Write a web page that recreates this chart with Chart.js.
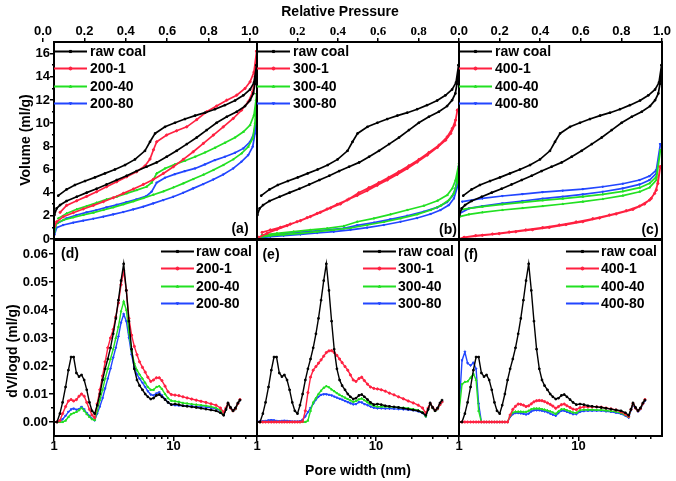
<!DOCTYPE html>
<html><head><meta charset="utf-8">
<script src="https://cdn.jsdelivr.net/npm/chart.js@4.4.0/dist/chart.umd.min.js"></script>
<style>
html,body{margin:0;padding:0;background:#fff;}
#wrap{position:relative;width:676px;height:481px;overflow:hidden;background:#fff;}
canvas{position:absolute;}
.t{position:absolute;white-space:nowrap;font-family:"Liberation Sans",Arial,sans-serif;font-size:14px;font-weight:bold;color:#000;line-height:1;transform:translate(-50%,-50%);}
.r{transform:translate(-50%,-50%) rotate(-90deg);}
</style></head><body>
<div id="wrap">
<canvas id="ca"></canvas><canvas id="cb"></canvas><canvas id="cc"></canvas>
<canvas id="cd"></canvas><canvas id="ce"></canvas><canvas id="cf"></canvas>
<div class="t" style="left:340px;top:11px;">Relative Pressure</div>
<div class="t r" style="left:25px;top:140px;">Volume (ml/g)</div>
<div class="t r" style="left:12px;top:351px;">dV/logd (ml/g)</div>
<div class="t" style="left:358px;top:470px;">Pore width (nm)</div>
<div class="t" style="left:240px;top:228px;">(a)</div>
<div class="t" style="left:448px;top:229px;">(b)</div>
<div class="t" style="left:650px;top:229px;">(c)</div>
<div class="t" style="left:70px;top:253px;">(d)</div>
<div class="t" style="left:271px;top:254px;">(e)</div>
<div class="t" style="left:471px;top:254px;">(f)</div>
</div>
<script>
// ---------- tick labels ----------
const topTicksA = [0, 0.2, 0.4, 0.6, 0.8, 1.0];
const topTicksB = [0.2, 0.4, 0.6, 0.8];
const topTicksC = [0, 0.2, 0.4, 0.6, 0.8, 1.0];
const volTicks = [0, 2, 4, 6, 8, 10, 12, 14, 16];
const volMinor = [1, 3, 5, 7, 9, 11, 13, 15];
const psdTicks = [0, 0.01, 0.02, 0.03, 0.04, 0.05, 0.06];
const psdMinor = [0.005, 0.015, 0.025, 0.035, 0.045, 0.055];
const poreTicks = [1, 10];
const poreMinor = [2, 3, 4, 5, 6, 7, 8, 9, 20, 30, 40];

// ---------- isotherms: raw coal ----------
const rawAdsP = [0.002,0.013,0.030,0.062,0.112,0.161,0.210,0.259,0.309,0.358,0.407,0.456,0.506,0.555,0.604,0.654,0.703,0.752,0.801,0.851,0.900,0.941,0.966,0.982,0.990,0.998];
const rawAdsV = [2.07,2.64,2.93,3.28,3.65,4.00,4.34,4.71,5.09,5.46,5.86,6.24,6.61,7.10,7.61,8.19,8.76,9.40,10.03,10.55,10.98,11.47,11.98,12.56,13.4,15.0];
const rawDesP = [0.021,0.062,0.103,0.153,0.202,0.251,0.300,0.350,0.399,0.448,0.473,0.498,0.547,0.596,0.645,0.695,0.744,0.793,0.842,0.892,0.933,0.966,0.985,0.998];
const rawDesV = [3.74,4.28,4.66,5.00,5.32,5.66,6.00,6.38,6.87,7.61,8.39,9.11,9.68,10.03,10.35,10.65,10.90,11.20,11.55,11.95,12.40,12.90,13.50,15.0];

// ---------- isotherms: 200 series ----------
const p200Ads = [0.002,0.013,0.046,0.095,0.144,0.194,0.243,0.292,0.342,0.391,0.440,0.489,0.539,0.588,0.637,0.686,0.736,0.785,0.834,0.883,0.924,0.957,0.979,0.990,0.998];
const v200_1Ads = [1.06,1.49,1.93,2.27,2.59,2.90,3.22,3.56,3.94,4.31,4.71,5.14,5.66,6.24,6.87,7.53,8.25,8.97,9.68,10.40,11.12,11.84,12.70,14.0,16.2];
const v200_40Ads = [0.63,1.35,1.64,1.87,2.07,2.27,2.50,2.73,2.99,3.25,3.53,3.82,4.11,4.45,4.80,5.17,5.55,5.95,6.38,6.87,7.39,7.96,8.68,9.97,12.56];
const v200_80Ads = [0.34,0.98,1.21,1.41,1.58,1.75,1.93,2.13,2.33,2.56,2.79,3.07,3.36,3.65,3.99,4.37,4.74,5.14,5.57,6.09,6.67,7.24,7.96,9.11,11.12];
const p200_1Des = [0.030,0.062,0.112,0.161,0.210,0.259,0.309,0.358,0.407,0.448,0.473,0.490,0.506,0.555,0.604,0.654,0.703,0.752,0.801,0.851,0.900,0.941,0.966,0.985,0.998];
const v200_1Des = [2.30,2.90,3.30,3.68,4.08,4.51,4.94,5.37,5.80,6.30,6.90,7.70,8.39,8.97,9.34,9.68,10.30,10.98,11.47,11.98,12.41,12.99,13.56,14.4,16.2];
const p200Des = [0.021,0.062,0.112,0.161,0.210,0.259,0.309,0.358,0.407,0.456,0.481,0.506,0.547,0.596,0.645,0.695,0.744,0.793,0.842,0.892,0.933,0.966,0.985,0.995,0.998];
const v200_40Des = [1.78,2.21,2.56,2.84,3.13,3.42,3.65,3.94,4.22,4.51,4.86,5.66,6.09,6.44,6.75,7.10,7.47,7.87,8.30,8.76,9.25,9.83,10.69,11.98,12.56];
const v200_80Des = [1.41,1.78,2.07,2.30,2.50,2.73,2.96,3.19,3.42,3.71,4.08,4.86,5.29,5.60,5.86,6.09,6.44,6.81,7.10,7.44,7.82,8.39,9.11,10.26,11.12];

// ---------- isotherms: 300 series ----------
const p300_1Ads = [0.008,0.050,0.099,0.149,0.198,0.248,0.298,0.347,0.397,0.446,0.496,0.545,0.595,0.645,0.694,0.744,0.793,0.843,0.893,0.934,0.959,0.979,0.992];
const v300_1Ads = [0.14,0.49,0.83,1.15,1.49,1.84,2.21,2.59,2.99,3.36,3.76,4.17,4.63,5.09,5.57,6.09,6.64,7.24,7.90,8.53,9.11,9.83,11.12];
const p300_1Des = [0.025,0.066,0.116,0.165,0.215,0.264,0.314,0.364,0.413,0.455,0.504,0.554,0.603,0.653,0.702,0.752,0.802,0.851,0.901,0.942,0.967,0.983,0.992];
const v300_1Des = [0.57,0.78,1.00,1.29,1.58,1.93,2.30,2.67,3.02,3.45,3.99,4.43,4.86,5.32,5.80,6.32,6.87,7.47,8.10,8.82,9.54,10.26,11.12];
const p300Ads = [0.008,0.066,0.132,0.215,0.298,0.380,0.463,0.545,0.628,0.711,0.793,0.860,0.909,0.950,0.975,0.992,1.0];
const v300_40Ads = [0.14,0.29,0.37,0.49,0.63,0.78,0.95,1.21,1.47,1.78,2.13,2.50,2.87,3.36,3.94,4.94,6.52];
const v300_80Ads = [0.09,0.20,0.29,0.40,0.52,0.63,0.78,0.98,1.21,1.49,1.81,2.16,2.50,2.93,3.50,4.51,6.24];
const p300Des = [0.025,0.099,0.182,0.264,0.347,0.430,0.496,0.579,0.661,0.744,0.826,0.893,0.942,0.967,0.983,1.0];
const v300_40Des = [0.34,0.49,0.63,0.78,0.92,1.12,1.49,1.78,2.13,2.50,2.87,3.30,3.79,4.37,5.09,6.52];
const v300_80Des = [0.32,0.43,0.55,0.66,0.78,0.92,1.18,1.41,1.70,2.01,2.36,2.73,3.19,3.71,4.37,6.24];

// ---------- isotherms: 400 series ----------
const p400_1Ads = [0,0.025,0.082,0.165,0.247,0.329,0.412,0.494,0.577,0.659,0.741,0.824,0.890,0.939,0.964,0.980,0.992];
const v400_1Ads = [0.0,0.14,0.29,0.43,0.60,0.78,0.98,1.21,1.47,1.75,2.07,2.44,2.84,3.36,3.94,4.80,6.24];
const p400_1Des = [0.025,0.115,0.198,0.280,0.362,0.445,0.527,0.610,0.692,0.774,0.857,0.914,0.947,0.972,0.992];
const v400_1Des = [0.14,0.32,0.46,0.63,0.80,1.00,1.24,1.49,1.81,2.16,2.56,3.02,3.50,4.22,6.24];
const p400Ads = [0.003,0.049,0.115,0.214,0.313,0.412,0.511,0.610,0.708,0.807,0.890,0.939,0.972,0.992];
const v400_40Ads = [1.93,2.13,2.30,2.50,2.67,2.84,3.02,3.22,3.45,3.74,4.08,4.45,5.09,7.67];
const v400_80Ads = [2.21,2.64,2.84,3.07,3.28,3.48,3.65,3.85,4.08,4.37,4.71,5.09,5.66,8.19];
const p400Des = [0.016,0.115,0.214,0.313,0.412,0.511,0.610,0.708,0.807,0.890,0.939,0.972,0.992];
const v400_40Des = [2.56,2.79,2.99,3.16,3.33,3.48,3.65,3.85,4.11,4.43,4.80,5.37,7.67];
const v400_80Des = [3.22,3.50,3.71,3.88,4.05,4.17,4.31,4.51,4.77,5.09,5.43,5.95,8.19];

// ---------- pore size distributions ----------
const poreWidth = [1.0,1.06,1.12,1.18,1.25,1.32,1.39,1.46,1.54,1.62,1.70,1.79,1.88,1.98,2.08,2.19,2.30,2.42,2.55,2.68,2.82,2.97,3.13,3.29,3.46,3.64,3.83,4.03,4.24,4.46,4.70,4.95,5.2,5.5,5.8,6.1,6.45,6.8,7.2,7.6,8.0,8.5,9.0,9.6,10.3,11.1,12,13,14.2,15.5,17,18.7,20.6,22.7,24.7,26.3,27.5,28.6,30,31.5,33,34.6,36];
const psdRaw = [0,0,0.003,0.007,0.0125,0.0185,0.0232,0.0232,0.0175,0.0162,0.0168,0.0150,0.0115,0.0070,0.0040,0.0030,0.0060,0.0100,0.0150,0.0190,0.0225,0.0265,0.0315,0.0370,0.0435,0.0505,0.0565,0.0470,0.0360,0.0260,0.0190,0.0150,0.0130,0.0115,0.0100,0.0090,0.0082,0.0085,0.0095,0.0098,0.0090,0.0080,0.0070,0.0062,0.0064,0.0062,0.0058,0.0056,0.0054,0.0052,0.0049,0.0046,0.0043,0.0040,0.0033,0.0024,0.0045,0.0068,0.0052,0.0040,0.0050,0.0068,0.0078];
const psd200_1 = [0,0,0.0005,0.003,0.0055,0.0075,0.0080,0.0075,0.0080,0.0092,0.0100,0.0092,0.0070,0.0045,0.0025,0.0015,0.0065,0.0115,0.0165,0.0215,0.0265,0.0300,0.0330,0.0375,0.0425,0.0490,0.0540,0.0470,0.0370,0.0310,0.0270,0.0240,0.0215,0.0195,0.0178,0.0160,0.0145,0.0150,0.0158,0.0158,0.0148,0.0128,0.0108,0.0098,0.0096,0.0094,0.0090,0.0086,0.0082,0.0078,0.0074,0.0070,0.0065,0.0060,0.0050,0.0035,0.0050,0.0066,0.0050,0.0040,0.0048,0.0066,0.0080];
const psd200_40 = [0,0,0,0,0.0005,0.0018,0.0028,0.0032,0.0036,0.0042,0.0050,0.0040,0.0028,0.0018,0.0010,0.0007,0.0040,0.0078,0.0115,0.0155,0.0190,0.0225,0.0260,0.0300,0.0340,0.0395,0.0430,0.0400,0.0320,0.0255,0.0210,0.0185,0.0170,0.0155,0.0140,0.0125,0.0115,0.0115,0.0125,0.0128,0.0118,0.0100,0.0085,0.0076,0.0074,0.0072,0.0068,0.0066,0.0064,0.0062,0.0060,0.0058,0.0055,0.0050,0.0042,0.0028,0.0045,0.0066,0.0050,0.0040,0.0046,0.0066,0.0080];
const psd200_80 = [0,0,0.0002,0.0010,0.0022,0.0036,0.0045,0.0048,0.0044,0.0046,0.0054,0.0045,0.0032,0.0022,0.0012,0.0006,0.0030,0.0055,0.0085,0.0120,0.0155,0.0190,0.0230,0.0265,0.0305,0.0355,0.0385,0.0360,0.0300,0.0240,0.0195,0.0170,0.0155,0.0140,0.0125,0.0110,0.0098,0.0095,0.0102,0.0106,0.0095,0.0082,0.0070,0.0062,0.0060,0.0059,0.0058,0.0057,0.0056,0.0055,0.0054,0.0053,0.0051,0.0048,0.0040,0.0026,0.0045,0.0066,0.0050,0.0040,0.0046,0.0066,0.0078];
const psd300_1 = [0,0,0,0,0,0,0,0,0,0,0,0,0,0,0,0,0,0.0002,0.0040,0.0105,0.0160,0.0185,0.0198,0.0210,0.0222,0.0235,0.0248,0.0254,0.0255,0.0248,0.0238,0.0225,0.0212,0.0198,0.0185,0.0168,0.0150,0.0145,0.0155,0.0160,0.0148,0.0135,0.0125,0.0120,0.0118,0.0115,0.0110,0.0103,0.0097,0.0090,0.0083,0.0075,0.0068,0.0060,0.0050,0.0032,0.0050,0.0066,0.0052,0.0042,0.0048,0.0062,0.0072];
const psd300_40 = [0,0,0,0,0,0,0,0,0,0,0,0,0,0,0,0,0,0,0,0.0005,0.0040,0.0070,0.0085,0.0100,0.0112,0.0122,0.0128,0.0124,0.0116,0.0110,0.0103,0.0097,0.0092,0.0087,0.0082,0.0077,0.0072,0.0075,0.0081,0.0084,0.0078,0.0070,0.0064,0.0058,0.0055,0.0055,0.0055,0.0054,0.0053,0.0052,0.0051,0.0049,0.0046,0.0042,0.0035,0.0020,0.0045,0.0066,0.0050,0.0040,0.0046,0.0062,0.0072];
const psd300_80 = [0.0002,0.0002,0.0003,0.0004,0.0006,0.0007,0.0006,0.0004,0.0003,0.0004,0.0005,0.0004,0.0003,0.0002,0.0002,0.0002,0.0003,0.0008,0.0020,0.0035,0.0050,0.0065,0.0080,0.0090,0.0097,0.0099,0.0099,0.0097,0.0095,0.0091,0.0087,0.0083,0.0080,0.0075,0.0071,0.0067,0.0063,0.0064,0.0071,0.0070,0.0064,0.0060,0.0055,0.0051,0.0049,0.0049,0.0048,0.0048,0.0047,0.0046,0.0045,0.0044,0.0042,0.0038,0.0032,0.0020,0.0045,0.0066,0.0050,0.0040,0.0046,0.0062,0.0072];
const psd400_1 = [0,0,0,0,0,0,0,0,0,0,0,0,0,0,0,0,0,0,0,0.0025,0.0045,0.0056,0.0064,0.0063,0.0060,0.0055,0.0058,0.0065,0.0072,0.0076,0.0077,0.0076,0.0073,0.0068,0.0063,0.0057,0.0049,0.0055,0.0062,0.0064,0.0058,0.0052,0.0046,0.0044,0.0051,0.0054,0.0054,0.0054,0.0054,0.0053,0.0050,0.0047,0.0043,0.0036,0.0028,0.0020,0.0045,0.0066,0.0050,0.0040,0.0048,0.0066,0.0080];
const psd400_40 = [0.0035,0.0135,0.0143,0.0145,0.0158,0.0172,0.0150,0.0040,0,0,0,0,0,0,0,0,0,0,0,0.0022,0.0034,0.0037,0.0037,0.0037,0.0036,0.0036,0.0040,0.0046,0.0048,0.0048,0.0048,0.0046,0.0044,0.0041,0.0038,0.0034,0.0029,0.0038,0.0046,0.0046,0.0042,0.0038,0.0034,0.0033,0.0042,0.0044,0.0044,0.0044,0.0043,0.0043,0.0041,0.0039,0.0037,0.0032,0.0025,0.0018,0.0045,0.0066,0.0050,0.0040,0.0048,0.0066,0.0080];
const psd400_80 = [0.0045,0.0220,0.0250,0.0210,0.0202,0.0212,0.0190,0.0065,0,0,0,0,0,0,0,0,0,0,0,0.0018,0.0028,0.0032,0.0032,0.0031,0.0029,0.0027,0.0030,0.0038,0.0042,0.0042,0.0042,0.0040,0.0038,0.0035,0.0030,0.0026,0.0022,0.0032,0.0040,0.0040,0.0036,0.0032,0.0028,0.0028,0.0036,0.0039,0.0040,0.0040,0.0040,0.0040,0.0038,0.0036,0.0033,0.0029,0.0022,0.0015,0.0042,0.0062,0.0048,0.0038,0.0046,0.0064,0.0076];

// ---------- styling ----------
const FONT = '"Liberation Sans", Arial, sans-serif';
const SERIF = '"Liberation Serif", "Times New Roman", serif';
const STY = [
  {c:'#000000', s:'rect', r:0},
  {c:'#ff2040', s:'circle', r:0},
  {c:'#22e022', s:'triangle', r:0},
  {c:'#2246ff', s:'triangle', r:180}
];
Chart.defaults.font.family = FONT;
Chart.defaults.font.weight = 'bold';
Chart.defaults.color = '#000';

function loop(aP, aV, dP, dV) {
  const pts = aP.map((p, i) => ({x: p, y: aV[i]}));
  for (let i = dP.length - 1; i >= 0; i--) pts.push({x: dP[i], y: dV[i]});
  return pts;
}
function psd(arr) { return poreWidth.map((w, i) => ({x: w, y: arr[i]})); }

function ds(label, data, k, lw) {
  const st = STY[k];
  return {label, data, borderColor: st.c, backgroundColor: st.c, borderWidth: lw,
    pointStyle: st.s, pointRotation: st.r, pointRadius: 1.1, pointBorderWidth: 1,
    pointBackgroundColor: st.c, pointBorderColor: st.c, showLine: true, tension: 0, fill: false};
}

const framePlugin = {id: 'frame', afterDatasetsDraw(chart) {
  const a = chart.chartArea, ctx = chart.ctx;
  ctx.save(); ctx.strokeStyle = '#000'; ctx.lineWidth = 2;
  ctx.strokeRect(a.left, a.top, a.right - a.left, a.bottom - a.top);
  ctx.restore();
}};

function legendPlugin(o) {
  return {id: 'plegend', afterDraw(chart) {
    const ctx = chart.ctx, a = chart.chartArea, d = chart.data.datasets;
    ctx.save();
    ctx.font = 'bold 14px ' + FONT;
    let maxW = 0; d.forEach(s => { maxW = Math.max(maxW, ctx.measureText(s.label).width); });
    const x0 = o.right ? a.right - o.inset - maxW - o.gap - o.len : a.left + o.inset;
    d.forEach((s, i) => {
      const y = Math.round(a.top + o.top + i * o.rowH) + 0.5;
      ctx.strokeStyle = s.borderColor; ctx.fillStyle = s.borderColor; ctx.lineWidth = 2;
      ctx.beginPath(); ctx.moveTo(x0, y); ctx.lineTo(x0 + o.len, y); ctx.stroke();
      ctx.lineWidth = 1;
      Chart.helpers.drawPoint(ctx, {pointStyle: s.pointStyle, rotation: s.pointRotation, radius: 1.5, borderWidth: 1}, x0 + o.len / 2, y);
      ctx.fillStyle = '#000'; ctx.textBaseline = 'middle'; ctx.textAlign = 'left';
      ctx.fillText(s.label, x0 + o.len + o.gap, y + 1);
    });
    ctx.restore();
  }};
}

function fixTicks(vals) { return function(scale) { scale.ticks = vals.map(v => ({value: v})); }; }
function setW(w) { return function(s) { s.width = w; }; }
function setH(h) { return function(s) { s.height = h; }; }

function place(id, l, t, r, b, m) {
  const cv = document.getElementById(id);
  const w = r - l + m.l + m.r, h = b - t + m.t + m.b;
  cv.width = w; cv.height = h;
  cv.style.left = (l - m.l) + 'px'; cv.style.top = (t - m.t) + 'px';
  cv.style.width = w + 'px'; cv.style.height = h + 'px';
  return cv;
}

const COLS = [[54, 257], [257, 459], [459, 662]];
const TOP = [42, 239], BOT = [240, 436];
const tickGrid = (len) => ({display: true, drawOnChartArea: false, drawTicks: true, tickLength: len, color: '#000', lineWidth: 1.5});
const tickFont = {size: 13, weight: 'bold', lineHeight: 1};
// minor-tick axis: same range, no labels, zero size, nearest to the plot
function minorAxis(type, pos, min, max, vals, len) {
  return {type, position: pos, min, max, weight: 0, afterBuildTicks: fixTicks(vals),
    afterFit: (pos === 'left' ? setW(0) : setH(0)),
    grid: tickGrid(len), border: {display: false}, ticks: {display: false}};
}

// ---------- top row: N2 isotherms ----------
const topPanels = [
  {id: 'ca', names: ['raw coal', '200-1', '200-40', '200-80'],
   series: [loop(rawAdsP, rawAdsV, rawDesP, rawDesV), loop(p200Ads, v200_1Ads, p200_1Des, v200_1Des), loop(p200Ads, v200_40Ads, p200Des, v200_40Des), loop(p200Ads, v200_80Ads, p200Des, v200_80Des)],
   ticks: topTicksA, tmin: 0.053, tmax: 1.034, font: FONT},
  {id: 'cb', names: ['raw coal', '300-1', '300-40', '300-80'],
   series: [loop(rawAdsP, rawAdsV, rawDesP, rawDesV), loop(p300_1Ads, v300_1Ads, p300_1Des, v300_1Des), loop(p300Ads, v300_40Ads, p300Des, v300_40Des), loop(p300Ads, v300_80Ads, p300Des, v300_80Des)],
   ticks: topTicksB, tmin: 0, tmax: 1, font: SERIF},
  {id: 'cc', names: ['raw coal', '400-1', '400-40', '400-80'],
   series: [loop(rawAdsP, rawAdsV, rawDesP, rawDesV), loop(p400_1Ads, v400_1Ads, p400_1Des, v400_1Des), loop(p400Ads, v400_40Ads, p400Des, v400_40Des), loop(p400Ads, v400_80Ads, p400Des, v400_80Des)],
   ticks: topTicksC, tmin: 0, tmax: 1, font: FONT}
];
topPanels.forEach((p, i) => {
  const first = i === 0;
  const m = {l: first ? 54 : 14, t: 30, r: 14, b: 10};
  const cv = place(p.id, COLS[i][0], TOP[0], COLS[i][1], TOP[1], m);
  const scales = {
    x: {type: 'linear', min: 0, max: 1, display: false},
    xt: {type: 'linear', position: 'top', min: p.tmin, max: p.tmax, afterBuildTicks: fixTicks(p.ticks), afterFit: setH(m.t),
         grid: tickGrid(4), border: {display: false},
         ticks: {padding: 0, maxRotation: 0, autoSkip: false, font: {family: p.font, size: 13, weight: 'bold', lineHeight: 1}, color: '#000', callback: v => Number(v).toFixed(1)}},
    y: {type: 'linear', min: 0, max: 17, display: first}
  };
  if (first) {
    Object.assign(scales.y, {weight: 1, afterBuildTicks: fixTicks(volTicks), afterFit: setW(54), grid: tickGrid(4), border: {display: false},
      ticks: {padding: 0, autoSkip: false, font: tickFont, color: '#000', callback: v => String(v)}});
    scales.ym = minorAxis('linear', 'left', 0, 17, volMinor, 2);
  }
  new Chart(cv, {
    type: 'scatter',
    data: {datasets: p.series.map((s, k) => ds(p.names[k], s, k, 1.7))},
    options: {
      responsive: false, animation: false, devicePixelRatio: 1,
      layout: {padding: {left: first ? 0 : m.l, right: m.r, bottom: m.b, top: 0}},
      plugins: {legend: {display: false}, tooltip: {enabled: false}},
      scales
    },
    plugins: [framePlugin, legendPlugin({right: false, inset: 0, gap: 3, len: 33, top: 9, rowH: 17.3})]
  });
});

// ---------- bottom row: pore size distributions ----------
const botPanels = [
  {id: 'cd', names: ['raw coal', '200-1', '200-40', '200-80'], series: [psdRaw, psd200_1, psd200_40, psd200_80]},
  {id: 'ce', names: ['raw coal', '300-1', '300-40', '300-80'], series: [psdRaw, psd300_1, psd300_40, psd300_80]},
  {id: 'cf', names: ['raw coal', '400-1', '400-40', '400-80'], series: [psdRaw, psd400_1, psd400_40, psd400_80]}
];
botPanels.forEach((p, i) => {
  const first = i === 0;
  const m = {l: first ? 54 : 14, t: 10, r: 14, b: 22};
  const cv = place(p.id, COLS[i][0], BOT[0], COLS[i][1], BOT[1], m);
  const scales = {
    x: {type: 'logarithmic', position: 'bottom', weight: 1, min: 1, max: 50, afterBuildTicks: fixTicks(poreTicks), afterFit: setH(m.b),
        grid: tickGrid(5), border: {display: false},
        ticks: {padding: -1, maxRotation: 0, autoSkip: false, font: tickFont, color: '#000', callback: v => String(v)}},
    xm: minorAxis('logarithmic', 'bottom', 1, 50, poreMinor, 3),
    y: {type: 'linear', min: -0.005, max: 0.065, display: first}
  };
  if (first) {
    Object.assign(scales.y, {weight: 1, afterBuildTicks: fixTicks(psdTicks), afterFit: setW(54), grid: tickGrid(5), border: {display: false},
      ticks: {padding: 1, autoSkip: false, font: tickFont, color: '#000', callback: v => Number(v).toFixed(2)}});
    scales.ym = minorAxis('linear', 'left', -0.005, 0.065, psdMinor, 3);
  }
  new Chart(cv, {
    type: 'line',
    data: {datasets: p.series.map((s, k) => ds(p.names[k], psd(s), k, 1.4))},
    options: {
      responsive: false, animation: false, devicePixelRatio: 1,
      layout: {padding: {left: first ? 0 : m.l, right: m.r, top: m.t, bottom: 0}},
      plugins: {legend: {display: false}, tooltip: {enabled: false}},
      scales
    },
    plugins: [framePlugin, legendPlugin({right: true, inset: 5, gap: 2, len: 33, top: 11, rowH: 17.3})]
  });
});
</script>
</body></html>
